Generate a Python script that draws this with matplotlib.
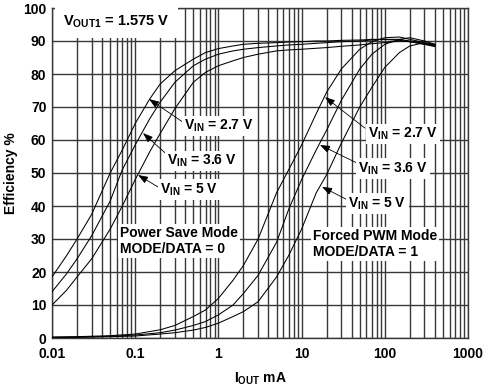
import matplotlib
matplotlib.use('Agg')
import matplotlib.pyplot as plt
from matplotlib.ticker import FixedLocator, LogLocator, NullFormatter

plt.rcParams['font.family'] = ['Liberation Sans', 'DejaVu Sans']
plt.rcParams['font.weight'] = 'bold'
plt.rcParams['mathtext.fontset'] = 'custom'
plt.rcParams['mathtext.bf'] = 'Liberation Sans:bold'
plt.rcParams['mathtext.rm'] = 'Liberation Sans:bold'
plt.rcParams['mathtext.it'] = 'Liberation Sans:bold'
plt.rcParams['mathtext.default'] = 'bf'

# ---- data ----
i_ps = [0.01, 0.015, 0.02, 0.03, 0.05, 0.07, 0.1, 0.15, 0.2, 0.3, 0.5, 0.7, 1, 1.5, 2, 3, 5, 7,
        10, 15, 20, 30, 50, 70, 100, 150, 200, 300, 400]
ps_27 = [18.5, 25, 30, 37.5, 50, 57, 65, 72.5, 77, 81, 84.5, 86.5, 87.7, 88.5, 89, 89.3, 89.5, 89.7,
         89.8, 90, 90, 90.2, 90.3, 90.5, 90.5, 90.2, 89.8, 89, 88.3]
ps_36 = [14, 19.5, 24, 31, 41.5, 51, 58.5, 66.5, 71.5, 77.5, 82.5, 84.5, 86, 87, 87.5, 88, 88.5, 88.8,
         89, 89.3, 89.5, 89.8, 90, 90.3, 90.5, 90.5, 90, 89.3, 88.8]
ps_50 = [10, 14.5, 18.5, 24, 33, 40, 48, 56.5, 62, 69.5, 77.5, 80.5, 82.5, 84, 85, 86, 87, 87.3,
         87.5, 87.8, 88, 88.4, 88.8, 89.2, 89.5, 90, 89.8, 89, 88.5]

i_pwm = [0.01, 0.02, 0.05, 0.1, 0.2, 0.3, 0.5, 0.7, 1, 1.5, 2, 3, 5, 7, 10, 15, 20, 30, 50, 70,
         100, 150, 200, 300, 400]
pwm_27 = [0.3, 0.4, 0.7, 1.2, 2.5, 3.8, 6.5, 8.5, 12, 17.5, 22, 30, 44, 51, 58.5, 68, 74.5, 81.5,
          87.5, 89.8, 91, 91.2, 90.5, 89.5, 88.5]
pwm_36 = [0.2, 0.3, 0.5, 0.9, 1.6, 2.4, 3.8, 5, 7, 10, 13.5, 19, 29, 39, 48, 57, 63, 72, 81.5, 86,
          89, 90.5, 91, 90, 89]
pwm_50 = [0.1, 0.2, 0.4, 0.6, 1.2, 1.6, 2.4, 3.2, 4.5, 6.5, 8, 11, 18.5, 25, 33, 44, 49.5, 59, 70,
          76, 82, 86.5, 88.5, 89.5, 89]

x_ticks = [0.01, 0.1, 1, 10, 100, 1000]
x_tick_labels = ['0.01', '0.1', '1', '10', '100', '1000']
y_ticks = [0, 10, 20, 30, 40, 50, 60, 70, 80, 90, 100]

# ---- figure ----
fig = plt.figure(figsize=(4.87, 3.91), dpi=100)
ax = fig.add_axes([52 / 487, 1 - 338 / 391, 416 / 487, 330 / 391])
ax.set_xscale('log')
ax.set_xlim(0.01, 1000)
ax.set_ylim(0, 100)

gcol = '#383838'
ax.xaxis.set_major_locator(FixedLocator(x_ticks))
ax.xaxis.set_minor_locator(LogLocator(base=10, subs=range(2, 10), numticks=20))
ax.xaxis.set_minor_formatter(NullFormatter())
ax.set_xticklabels(x_tick_labels)
ax.yaxis.set_major_locator(FixedLocator(y_ticks))
ax.grid(True, which='major', color=gcol, lw=1.0)
ax.grid(True, which='minor', axis='x', color=gcol, lw=1.0)
ax.set_axisbelow(True)
for s in ax.spines.values():
    s.set_color(gcol)
    s.set_linewidth(1.0)
ax.tick_params(which='both', length=0, labelsize=10)
ax.tick_params(axis='y', pad=4)
ax.tick_params(axis='x', pad=6.5)
for lab in ax.get_xticklabels() + ax.get_yticklabels():
    lab.set_fontweight('bold')

for ys in (ps_27, ps_36, ps_50):
    ax.plot(i_ps, ys, color='black', lw=0.75, zorder=3)
for ys in (pwm_27, pwm_36, pwm_50):
    ax.plot(i_pwm, ys, color='black', lw=0.75, zorder=3)

ax.set_ylabel('Efficiency %', fontsize=10, fontweight='bold', labelpad=4)
ax.set_xlabel('I$_{OUT}$ mA', fontsize=10, fontweight='bold', labelpad=7)

box = dict(boxstyle='square,pad=0.15', fc='white', ec='none')

ax.text(0.01356, 95.8, 'V$_{OUT1}$ = 1.575 V', fontsize=10.5, fontweight='bold',
        ha='left', va='center', zorder=5,
        bbox=dict(boxstyle='square,pad=0.55', fc='white', ec='none'))

arrow = dict(arrowstyle='-|>,head_length=0.6,head_width=0.22', color='black', lw=0.6,
             shrinkA=0, shrinkB=0)

labels = [
    # text, text pos, tail, tip
    ('V$_{IN}$ = 2.7 V', (0.386, 64.2), (0.37, 65.5), (0.1466, 72.4)),
    ('V$_{IN}$ = 3.6 V', (0.243, 53.6), (0.236, 55.8), (0.124, 62.1)),
    ('V$_{IN}$ = 5 V', (0.201, 45.0), (0.196, 45.5), (0.108, 49.4)),
    ('V$_{IN}$ = 2.7 V', (63.5, 61.8), (57.8, 63.6), (19.1, 73.0)),
    ('V$_{IN}$ = 3.6 V', (48.0, 51.3), (46.5, 53.0), (16.6, 58.5)),
    ('V$_{IN}$ = 5 V', (36.5, 40.7), (36.0, 41.8), (17.6, 45.8)),
]
for txt, tpos, tail, tip in labels:
    ax.annotate('', xy=tip, xytext=tail, arrowprops=arrow, zorder=4)
    ax.text(tpos[0], tpos[1], txt, fontsize=10, fontweight='bold', ha='left', va='center',
            zorder=5, bbox=box)

ax.text(0.0657, 29.4, 'Power Save Mode\nMODE/DATA = 0', fontsize=10, fontweight='bold',
        ha='left', va='center', linespacing=1.1, zorder=5, bbox=box)
ax.text(13.7, 28.5, 'Forced PWM Mode\nMODE/DATA = 1', fontsize=10, fontweight='bold',
        ha='left', va='center', linespacing=1.1, zorder=5, bbox=box)

fig.savefig('out.png', dpi=100)
